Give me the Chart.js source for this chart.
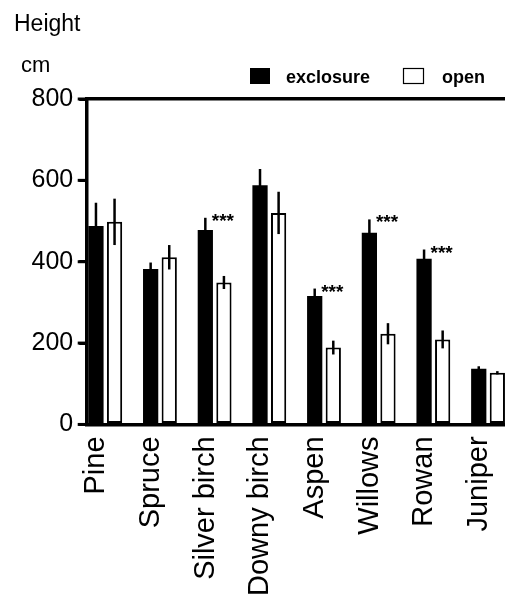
<!DOCTYPE html>
<html>
<head>
<meta charset="utf-8">
<script src="https://cdn.jsdelivr.net/npm/chart.js@4.4.1/dist/chart.umd.min.js"></script>
<style>
  html, body { margin: 0; padding: 0; background: #fff; }
  #wrap { width: 505px; height: 596px; position: relative; overflow: hidden; }
</style>
</head>
<body>
<div id="wrap"><canvas id="heightChart"></canvas></div>
<script>
// Valores (altura media, cm)
const categories = ["Pine", "Spruce", "Silver birch", "Downy birch", "Aspen", "Willows", "Rowan", "Juniper"];
const exclosureValues = [488, 382, 478, 588, 316, 471, 407, 137];
const exclosureErrors = [57, 16, 30, 40, 18, 33, 23, 6];
const openValues = [498, 411, 349, 520, 189, 223, 209, 127];
const openErrors = [57, 30, 16, 52, 17, 26, 22, 4];
const significance = ["", "", "***", "", "***", "***", "***", ""];
const yTicks = [0, 200, 400, 600, 800];

Chart.defaults.font.family = "'Liberation Sans', Arial, sans-serif";
Chart.defaults.color = "#000";

function toPoints(values) {
    return values.map((v, i) => ({ x: i, y: v }));
}

// Barras de error y asteriscos de significancia
const errorBarsPlugin = {
    id: "errorBars",
    afterDatasetsDraw(chart) {
        const ctx = chart.ctx;
        const y = chart.scales.y;
        const errs = [exclosureErrors, openErrors];
        ctx.save();
        ctx.strokeStyle = "#000";
        ctx.lineWidth = 2.5;
        chart.data.datasets.forEach((ds, d) => {
            const meta = chart.getDatasetMeta(d);
            meta.data.forEach((bar, i) => {
                const v = ds.data[i].y;
                const e = errs[d][i];
                ctx.beginPath();
                ctx.moveTo(bar.x, y.getPixelForValue(v + e));
                ctx.lineTo(bar.x, y.getPixelForValue(v - e));
                ctx.stroke();
            });
        });

        const excl = chart.getDatasetMeta(0);
        ctx.fillStyle = "#000";
        ctx.font = "bold 19px 'Liberation Sans', Arial, sans-serif";
        ctx.textAlign = "left";
        ctx.textBaseline = "alphabetic";
        significance.forEach((s, i) => {
            if (!s) return;
            const top = y.getPixelForValue(exclosureValues[i] + exclosureErrors[i]);
            ctx.fillText(s, excl.data[i].x + 6.5, top + 9);
        });
        ctx.restore();
    }
};

// Marcas del eje Y, títulos de eje y leyenda
const headerPlugin = {
    id: "header",
    afterDraw(chart) {
        const ctx = chart.ctx;
        const y = chart.scales.y;
        ctx.save();
        ctx.fillStyle = "#000";
        y.ticks.forEach((t) => {
            const py = y.getPixelForValue(t.value);
            ctx.fillRect(chart.chartArea.left - 9.5, py - 1.5, 9.5, 3);
        });

        ctx.textAlign = "left";
        ctx.textBaseline = "alphabetic";
        ctx.font = "23px 'Liberation Sans', Arial, sans-serif";
        ctx.fillText("Height", 14, 31);
        ctx.font = "22px 'Liberation Sans', Arial, sans-serif";
        ctx.fillText("cm", 21, 72);

        const dsE = chart.data.datasets[0];
        const dsO = chart.data.datasets[1];
        ctx.fillStyle = dsE.backgroundColor;
        ctx.fillRect(250, 68, 20, 16);
        ctx.fillStyle = dsO.backgroundColor;
        ctx.fillRect(403.5, 68.5, 20, 15);
        ctx.strokeStyle = dsO.borderColor;
        ctx.lineWidth = 1.2;
        ctx.strokeRect(403.5, 68.5, 20, 15);

        ctx.fillStyle = "#000";
        ctx.font = "bold 18px 'Liberation Sans', Arial, sans-serif";
        ctx.fillText(dsE.label, 286, 83);
        ctx.fillText(dsO.label, 442, 83);
        ctx.restore();
    }
};

new Chart(document.getElementById("heightChart"), {
    type: "bar",
    data: {
        datasets: [
            {
                label: "exclosure",
                data: toPoints(exclosureValues),
                backgroundColor: "#000",
                borderColor: "#000",
                borderWidth: 0,
                categoryPercentage: 0.68,
                barPercentage: 0.82
            },
            {
                label: "open",
                data: toPoints(openValues),
                backgroundColor: "#fff",
                borderColor: "#000",
                borderWidth: 2,
                borderSkipped: false,
                categoryPercentage: 0.68,
                barPercentage: 0.82
            }
        ]
    },
    options: {
        responsive: true,
        maintainAspectRatio: false,
        animation: false,
        layout: { padding: { top: 99, left: 25.5, right: 0, bottom: -12 } },
        plugins: {
            legend: { display: false },
            title: { display: false },
            tooltip: { enabled: false }
        },
        scales: {
            x: {
                type: "linear",
                offset: false,
                min: -0.33,
                max: 7.31,
                grid: { display: false, drawTicks: false },
                border: { display: true, color: "#000", width: 3.5 },
                afterBuildTicks(scale) {
                    scale.ticks = categories.map((c, i) => ({ value: i }));
                },
                afterFit(scale) {
                    // sin margen extra por la última etiqueta girada
                    scale.paddingLeft = 0;
                    scale.paddingRight = 0;
                },
                ticks: {
                    autoSkip: false,
                    minRotation: 90,
                    maxRotation: 90,
                    padding: 12,
                    labelOffset: -9,
                    font: { size: 29 },
                    callback: (value) => categories[Math.round(value)]
                }
            },
            xTop: {
                type: "linear",
                axis: "x",
                position: "top",
                offset: false,
                min: -0.33,
                max: 7.31,
                grid: { display: false, drawTicks: false },
                border: { display: true, color: "#000", width: 3.5 },
                ticks: { display: false }
            },
            y: {
                min: 0,
                max: 800,
                afterBuildTicks(scale) {
                    scale.ticks = yTicks.map(v => ({ value: v }));
                },
                grid: {
                    display: true,
                    drawOnChartArea: false,
                    drawTicks: true,
                    tickLength: 8,
                    color: "#000",
                    lineWidth: 3
                },
                border: { display: true, color: "#000", width: 3.5 },
                ticks: {
                    padding: 6,
                    font: { size: 25 }
                }
            }
        }
    },
    plugins: [errorBarsPlugin, headerPlugin]
});
</script>
</body>
</html>
